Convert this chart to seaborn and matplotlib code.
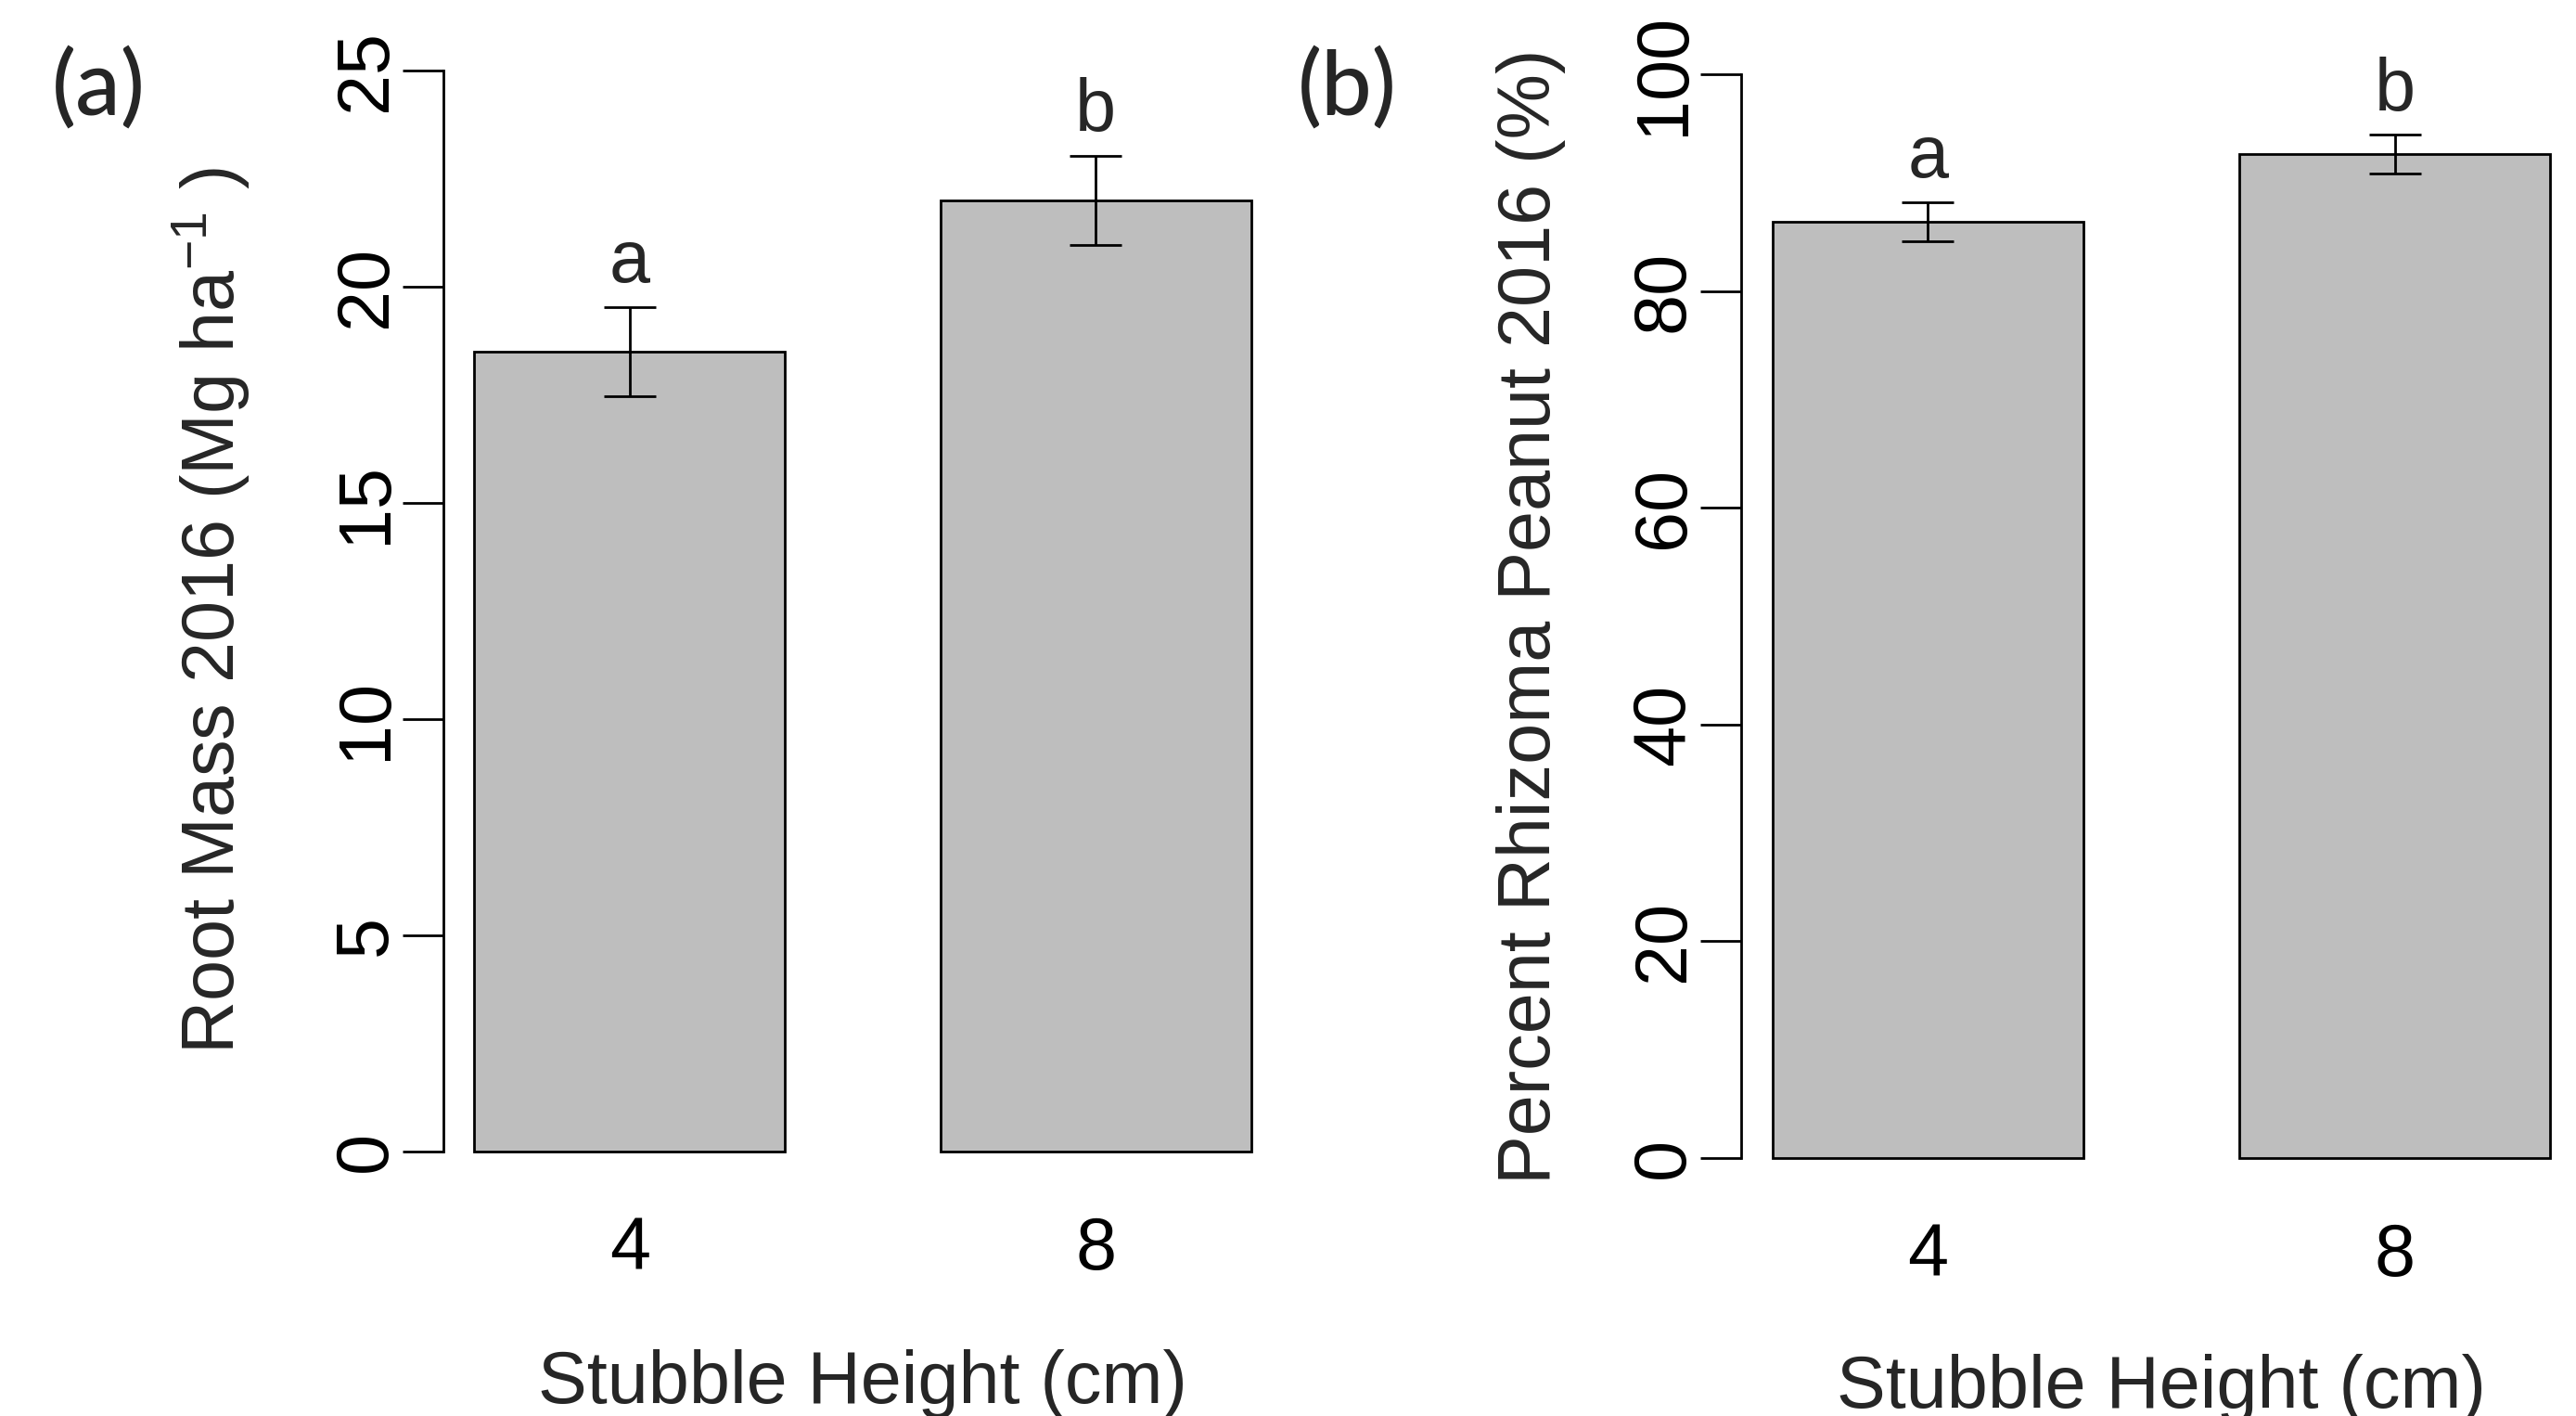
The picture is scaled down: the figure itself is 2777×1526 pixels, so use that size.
import matplotlib
matplotlib.use("Agg")
import matplotlib.pyplot as plt
import seaborn as sns
import pandas as pd
import numpy as np

# ---- data ----
stubble = ["4", "8"]
root_mass = [18.5, 22.0]
root_mass_se = [1.03, 1.03]
root_letters = ["a", "b"]
pct_peanut = [86.4, 92.6]
pct_peanut_se = [1.8, 1.8]
pct_letters = ["a", "b"]

sns.set_style("white")
plt.rcParams["font.family"] = ["Liberation Sans", "DejaVu Sans"]
plt.rcParams["mathtext.fontset"] = "custom"
plt.rcParams["mathtext.rm"] = "Liberation Sans"
plt.rcParams["mathtext.it"] = "Liberation Sans"
plt.rcParams["mathtext.default"] = "regular"

FS = 57
W, H = 2777, 1526
fig = plt.figure(figsize=(W / 100, H / 100), dpi=100)

def px_axes(l, r, t, b):
    return fig.add_axes([l / W, 1 - b / H, (r - l) / W, (b - t) / H])

ax_a = px_axes(478, 1382, 29.4, 1287.6)
ax_b = px_axes(1877, 2783, 33.3, 1294.7)

def panel(ax, means, se, letters, ylim, ticks, ylabel, ylab_x, xlab_y):
    df = pd.DataFrame({"Stubble": stubble, "val": means})
    sns.barplot(data=df, x="Stubble", y="val", order=stubble, color="#BEBEBE",
                saturation=1, width=2 / 3, edgecolor="black", linewidth=2,
                errorbar=None, ax=ax)
    xs = np.arange(len(stubble))
    ax.errorbar(xs, means, yerr=se, fmt="none", ecolor="black",
                elinewidth=2, capsize=20, capthick=2, zorder=5)
    for x, m, s, lab in zip(xs, means, se, letters):
        ax.annotate(lab, (x, m + s), xytext=(0, 34), textcoords="offset points",
                    ha="center", va="center", fontsize=FS)
    ax.set_xlim(-0.4, 1.4)
    ax.set_ylim(*ylim)
    ax.set_yticks(ticks)
    ax.set_yticklabels([str(t) for t in ticks])
    for s in ["top", "right", "bottom"]:
        ax.spines[s].set_visible(False)
    ax.spines["left"].set_bounds(ticks[0], ticks[-1])
    ax.spines["left"].set_linewidth(2)
    ax.spines["left"].set_color("black")
    ax.tick_params(axis="y", length=32, width=2, pad=0.5, labelsize=FS,
                   colors="black", left=True)
    for lab in ax.get_yticklabels():
        lab.set_rotation(90)
        lab.set_va("center")
    ax.tick_params(axis="x", length=0, pad=16, labelsize=FS, colors="black")
    ax.set_ylabel(ylabel, fontsize=FS)
    ax.yaxis.label.set_va("baseline")
    ax.yaxis.set_label_coords(ylab_x, 0.5)
    ax.set_xlabel("Stubble Height (cm)", fontsize=FS)
    ax.xaxis.label.set_va("baseline")
    ax.xaxis.set_label_coords(0.5, xlab_y)

panel(ax_a, root_mass, root_mass_se, root_letters, (-1, 26), [0, 5, 10, 15, 20, 25],
      r"Root Mass 2016 (Mg ha$^{-1}$ )", -0.2489, -0.1784)
panel(ax_b, pct_peanut, pct_peanut_se, pct_letters, (-4, 104), [0, 20, 40, 60, 80, 100],
      "Percent Rhizoma Peanut 2016 (%)", -0.2274, -0.1762)

fig.text(106 / W, 1 - 95 / H, "(a)", ha="center", va="center", fontsize=70,
         family=["Lato", "DejaVu Sans"], fontweight="medium")
fig.text(1452 / W, 1 - 95 / H, "(b)", ha="center", va="center", fontsize=70,
         family=["Lato", "DejaVu Sans"], fontweight="medium")

fig.savefig("out.png", dpi=100)
